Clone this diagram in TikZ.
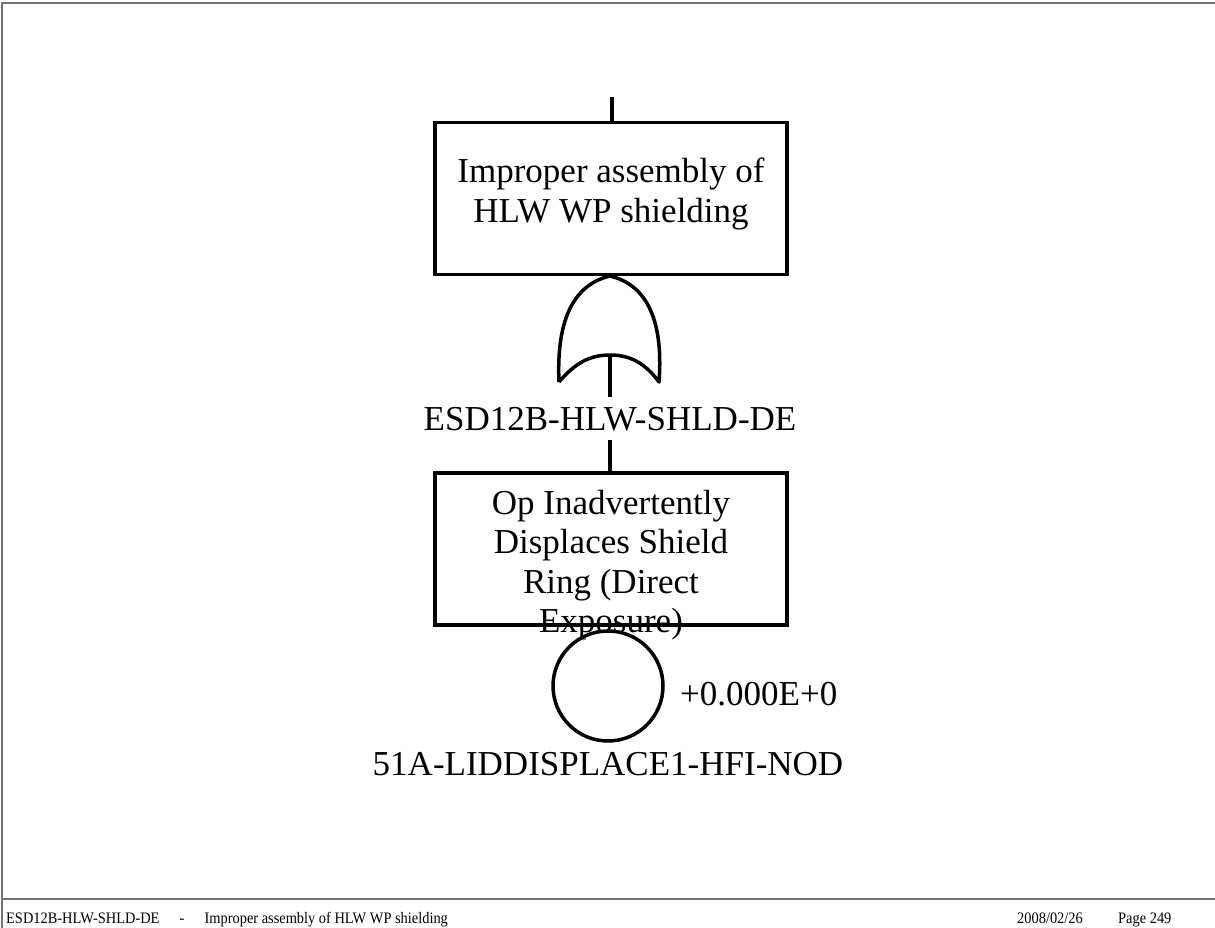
\documentclass[tikz,border=0pt]{standalone}
\usepackage{fontspec}
\setmainfont{Liberation Serif}
\begin{document}
\begin{tikzpicture}[x=1pt,y=-1pt,
  thick line/.style={line width=3.5pt},
  frame line/.style={line width=1.5pt,color=black!55},
  eventbox/.style={draw,line width=3.5pt,minimum width=352pt,minimum height=152pt,inner sep=0pt},
  bigtext/.style={font=\fontsize{35}{39.5}\selectfont,inner sep=0pt,align=center},
  foot/.style={font=\fontsize{16}{18}\selectfont,inner sep=0pt}]
\useasboundingbox (0,0) rectangle (1215,928);
% page frame
\coordinate (fTL) at (2,3);
\coordinate (fTR) at (1215,3);
\coordinate (fBL) at (2,928);
\coordinate (fL) at (2,899);
\coordinate (fR) at (1215,899);
\draw[frame line] (fTR) -- (fTL) -- (fBL);
\draw[frame line] (fL) -- (fR);
% top event
\node[eventbox] (top) at (611,198.5) {};
\node[bigtext,anchor=north] (toptext) at (611,158) {Improper assembly of\\HLW WP shielding};
\coordinate (topin) at (612,97);
\draw[thick line] (topin) -- (top.north -| topin);
% OR gate
\coordinate (gapex) at (610,276);
\coordinate (gbl) at (559,382);
\coordinate (gbr) at (659,382);
\coordinate (gin) at (610,355);
\coordinate (gout) at (610,397);
\draw[thick line,line join=round]
  (gbl) .. controls (556,316) and (576,284) .. (gapex)
  .. controls (644,284) and (664,316) .. (gbr)
  .. controls (645,363) and (630,355) .. (gin)
  .. controls (590,355) and (575,363) .. (gbl);
\draw[thick line] (gin) -- (gout);
\node[bigtext,anchor=base] (glabel) at (610,430) {ESD12B-HLW-SHLD-DE};
% basic event box
\node[eventbox] (ev) at (611,549) {};
\coordinate (lblout) at (610,440);
\draw[thick line] (lblout) -- (ev.north -| lblout);
\node[bigtext,anchor=north] (evtext) at (611,490) {Op Inadvertently\\Displaces Shield\\Ring (Direct\\Exposure)};
% basic event circle
\node[draw,circle,line width=3.5pt,minimum size=110pt,inner sep=0pt] (circ) at (608,686) {};
\node[bigtext,anchor=base west] (prob) at (680,705) {+0.000E+0};
\node[bigtext,anchor=base] (clabel) at (608,775) {51A-LIDDISPLACE1-HFI-NOD};
% footer
\node[foot,anchor=base west] (fleft) at (6,923) {\scalebox{0.9}[1]{ESD12B-HLW-SHLD-DE\hspace{1.4em}-\hspace{1.4em}Improper assembly of HLW WP shielding}};
\node[foot,anchor=base west] (fdate) at (1017,923) {\scalebox{0.9}[1]{2008/02/26}};
\node[foot,anchor=base west] (fpage) at (1118,923) {\scalebox{0.9}[1]{Page 249}};
\end{tikzpicture}
\end{document}
